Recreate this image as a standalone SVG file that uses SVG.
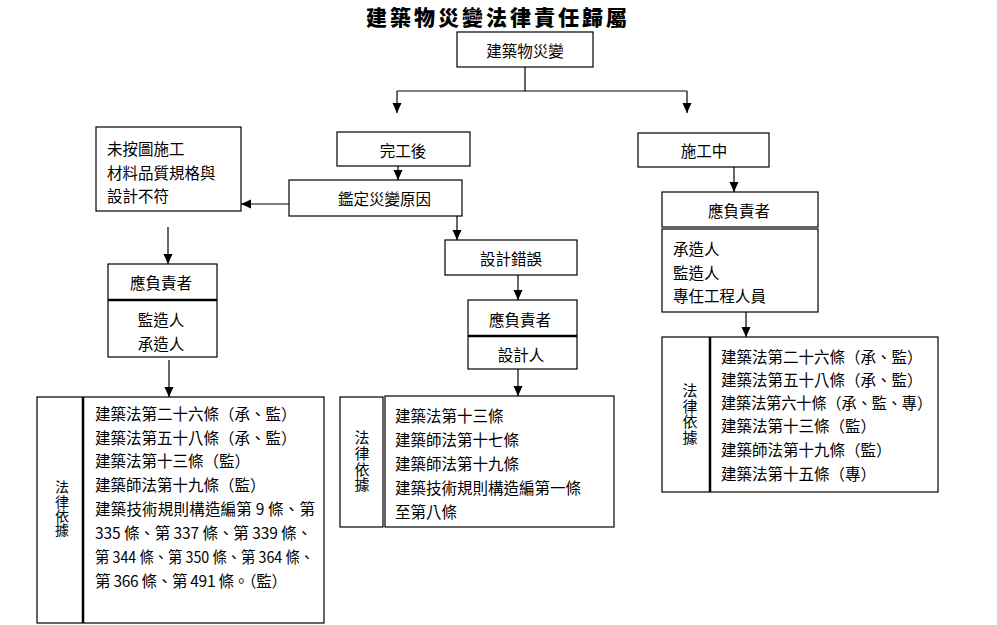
<svg xmlns="http://www.w3.org/2000/svg" width="997" height="625" viewBox="0 0 997 625">
<defs>
<style>
.b{fill:#fff;stroke:#000;stroke-width:1.2}
.d{stroke:#000;stroke-width:2.5;fill:none}
.t{font-family:"Noto Sans CJK TC","Liberation Sans",sans-serif;font-size:15.5px;fill:#000;dominant-baseline:central}
.c{text-anchor:middle}
.v{font-family:"Noto Sans CJK TC",sans-serif;font-size:14.5px;fill:#000;writing-mode:vertical-rl;text-orientation:upright;text-anchor:start;dominant-baseline:central;letter-spacing:0.6px}
.ttl{font-family:"Noto Sans CJK TC",sans-serif;font-size:21px;font-weight:900;letter-spacing:3px;fill:#000}
.ln{stroke:#000;stroke-width:1.2;fill:none}
.ar{stroke:#000;stroke-width:1.2;fill:none;marker-end:url(#ah)}
</style>
<marker id="ah" markerUnits="userSpaceOnUse" markerWidth="10" markerHeight="10" viewBox="0 0 10 10" refX="10" refY="5" orient="auto">
<path d="M0,0.5 L10,5 L0,9.5 z" fill="#000"/>
</marker>
</defs>
<rect width="997" height="625" fill="#fff"/>
<text class="ttl" x="366" y="25">建築物災變法律責任歸屬</text>

<g id="connectors">
<path class="ln" d="M525,67 V91 M397,91 H687"/>
<path class="ar" d="M397,91 V113"/>
<path class="ar" d="M687,91 V113"/>
<path class="ar" d="M398,166 V180"/>
<path class="ar" d="M289,204 H241"/>
<path class="ar" d="M457,216 V240"/>
<path class="ar" d="M168,227 V264"/>
<path class="ar" d="M169,360 V397"/>
<path class="ar" d="M518,275 V300"/>
<path class="ar" d="M518,369 V396"/>
<path class="ar" d="M734,167 V192"/>
<path class="ar" d="M746,312 V337"/>
</g>

<g id="n-root">
<rect class="b" x="457" y="32" width="136" height="35"/>
<text class="t c" x="525" y="50">建築物災變</text>
</g>

<g id="n-after">
<rect class="b" x="337" y="132" width="133" height="34"/>
<text class="t c" x="403" y="150">完工後</text>
</g>

<g id="n-during">
<rect class="b" x="638" y="133" width="131" height="34"/>
<text class="t c" x="704" y="150">施工中</text>
</g>

<g id="n-identify">
<rect class="b" x="289" y="180" width="173" height="36"/>
<text class="t" x="338" y="198">鑑定災變原因</text>
</g>

<g id="n-construction">
<rect class="b" x="96" y="127" width="145" height="84"/>
<text class="t" x="107" y="148">未按圖施工</text>
<text class="t" x="107" y="172">材料品質規格與</text>
<text class="t" x="107" y="195">設計不符</text>
</g>

<g id="n-design-error">
<rect class="b" x="445" y="240" width="132" height="35"/>
<text class="t c" x="511" y="258">設計錯誤</text>
</g>

<g id="n-resp-left">
<rect class="b" x="108" y="264" width="109" height="93"/>
<path class="d" d="M108,300 H217" stroke-width="2"/>
<text class="t c" x="161" y="282">應負責者</text>
<text class="t c" x="161" y="319">監造人</text>
<text class="t c" x="161" y="343">承造人</text>
</g>

<g id="n-resp-mid">
<rect class="b" x="468" y="300" width="109" height="69"/>
<path class="d" d="M468,336 H577" stroke-width="2"/>
<text class="t c" x="520" y="319">應負責者</text>
<text class="t c" x="521" y="354">設計人</text>
</g>

<g id="n-resp-right">
<rect class="b" x="662" y="192" width="156" height="35"/>
<text class="t c" x="739" y="210">應負責者</text>
<rect class="b" x="662" y="229" width="156" height="83"/>
<text class="t" x="673" y="248">承造人</text>
<text class="t" x="673" y="272">監造人</text>
<text class="t" x="673" y="295">專任工程人員</text>
</g>

<g id="n-law-left">
<rect class="b" x="37" y="397" width="287" height="226"/>
<path class="d" d="M83,397 V623"/>
<text class="v" x="62" y="480" style="font-size:14px;letter-spacing:0.3px">法律依據</text>
<text class="t" x="95" y="413">建築法第二十六條（承、監）</text>
<text class="t" x="95" y="437">建築法第五十八條（承、監）</text>
<text class="t" x="95" y="460">建築法第十三條（監）</text>
<text class="t" x="95" y="484">建築師法第十九條（監）</text>
<text class="t" x="95" y="508" textLength="220">建築技術規則構造編第 9 條、第</text>
<text class="t" x="95" y="532" textLength="217">335 條、第 337 條、第 339 條、</text>
<text class="t" x="95" y="556" textLength="219" lengthAdjust="spacingAndGlyphs">第 344 條、第 350 條、第 364 條、</text>
<text class="t" x="95" y="580" textLength="192">第 366 條、第 491 條。（監）</text>
</g>

<g id="n-law-mid">
<rect class="b" x="340" y="397" width="43" height="130"/>
<rect class="b" x="385" y="396" width="229" height="131"/>
<text class="v" x="362" y="430" style="font-size:15px;letter-spacing:0.75px">法律依據</text>
<text class="t" x="395" y="415">建築法第十三條</text>
<text class="t" x="395" y="439">建築師法第十七條</text>
<text class="t" x="395" y="463">建築師法第十九條</text>
<text class="t" x="395" y="487">建築技術規則構造編第一條</text>
<text class="t" x="395" y="511">至第八條</text>
</g>

<g id="n-law-right">
<rect class="b" x="662" y="337" width="276" height="155"/>
<path class="d" d="M710,337 V492"/>
<text class="v" x="690" y="383" style="font-size:15px;letter-spacing:0.5px">法律依據</text>
<text class="t" x="721" y="356">建築法第二十六條（承、監）</text>
<text class="t" x="721" y="379">建築法第五十八條（承、監）</text>
<text class="t" x="721" y="402" textLength="211" lengthAdjust="spacingAndGlyphs">建築法第六十條（承、監、專）</text>
<text class="t" x="721" y="425">建築法第十三條（監）</text>
<text class="t" x="721" y="449">建築師法第十九條（監）</text>
<text class="t" x="721" y="473">建築法第十五條（專）</text>
</g>
</svg>
